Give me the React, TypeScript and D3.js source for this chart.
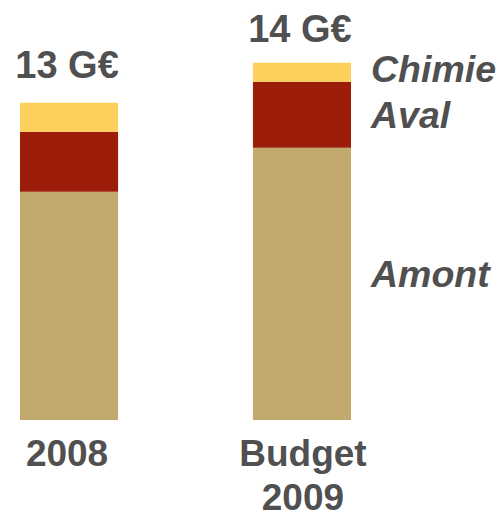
import React from "react";
import * as d3 from "d3";

const categories = ["2008", "Budget 2009"];
const categoryLines = [["2008"], ["Budget", "2009"]];
const totals = ["13 G€", "14 G€"];
const seriesNames = ["Amont", "Aval", "Chimie"];
const amont = [9.13, 10.89];
const aval = [2.4, 2.64];
const chimie = [1.16, 0.76];
const colors = ["#C2A96E", "#9B1D0A", "#FCD05A"];

const W = 497;
const H = 511;
const baseY = 420;
const textColor = "#505050";
const font = "'Liberation Sans', Arial, Helvetica, sans-serif";

export default function App() {
  const rows = categories.map((c, i) => ({ cat: c, Amont: amont[i], Aval: aval[i], Chimie: chimie[i] }));
  const stack = d3.stack<any>().keys(seriesNames)(rows);
  const x = d3.scaleBand().domain(categories).range([20, 351]).paddingInner(0.579).paddingOuter(0);
  const y = d3.scaleLinear().domain([0, 15]).range([baseY, baseY - 375]);
  const bw = x.bandwidth();
  const last = categories[categories.length - 1];
  const labelDy = [-10, 0, -3];
  const totalGap = [25, 21];
  const catDx = [-2, 1];

  return (
    <svg width={W} height={H} style={{ position: "absolute", left: 0, top: 0 }} fontFamily={font}>
      {stack.map((s, si) => (
        <g key={s.key} fill={colors[si]}>
          {s.map((d, i) => (
            <rect key={i} x={x(categories[i])} y={y(d[1])} width={bw} height={y(d[0]) - y(d[1])} />
          ))}
        </g>
      ))}
      {categories.map((c, i) => {
        const top = stack[stack.length - 1][i][1];
        return (
          <text key={c} x={(x(c) as number) + bw / 2 - 2} y={y(top) - totalGap[i]} textAnchor="middle"
            fontSize={38} fontWeight="bold" fill={textColor}>{totals[i]}</text>
        );
      })}
      {categories.map((c, i) => (
        <text key={c} textAnchor="middle" fontSize={37} fontWeight="bold" fill={textColor}>
          {categoryLines[i].map((l, li) => (
            <tspan key={li} x={(x(c) as number) + bw / 2 + catDx[i]} y={466 + li * 43.5}>{l}</tspan>
          ))}
        </text>
      ))}
      {stack.map((s, si) => {
        const d = s[categories.length - 1];
        return (
          <text key={s.key} x={(x(last) as number) + bw + 20} y={(y(d[0]) + y(d[1])) / 2 + 13 + labelDy[si]}
            fontSize={37.5} fontWeight="bold" fontStyle="italic" fill={textColor}>{s.key}</text>
        );
      })}
    </svg>
  );
}
